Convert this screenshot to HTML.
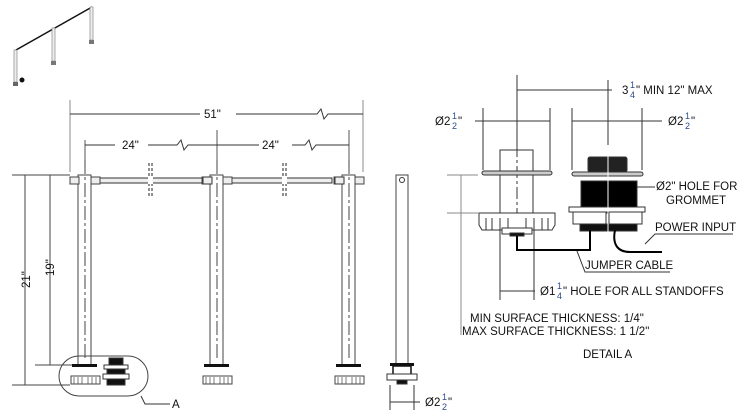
<!DOCTYPE html>
<html><head><meta charset="utf-8"><style>
html,body{margin:0;padding:0;background:#fff;}
svg{display:block;}
text{font-family:"Liberation Sans",sans-serif;font-size:11.5px;fill:#111;}
.f{font-size:9px;fill:#2a4a8a;}
</style></head><body>
<svg width="750" height="420" viewBox="0 0 750 420" xmlns="http://www.w3.org/2000/svg">
<g fill="none" stroke="#333" stroke-width="1">
<!-- isometric -->
<path d="M16 50 L92 7" stroke="#111" stroke-width="1.5"/>
<rect x="14" y="50" width="3" height="32" fill="#eee" stroke="#888" stroke-width="0.7"/>
<rect x="52" y="28" width="3" height="33" fill="#eee" stroke="#888" stroke-width="0.7"/>
<rect x="90" y="7" width="3" height="33" fill="#eee" stroke="#888" stroke-width="0.7"/>
<rect x="13" y="82" width="5" height="4" fill="#666" stroke="none"/><circle cx="22" cy="80" r="2.5" fill="#111" stroke="none"/>
<rect x="51" y="61" width="5" height="4" fill="#777" stroke="none"/>
<rect x="89" y="40" width="5" height="4" fill="#777" stroke="none"/>

<!-- 51 dim -->
<path d="M70 100V172M363 100V172" stroke="#888"/>
<path d="M70 114H200M236 114H317l4 -5 3 10 4 -5H363"/>
<!-- 24 dims -->
<path d="M85 140V172M217 130V172M349 130V172" stroke="#555"/>
<path d="M85 145H115M148 145H177l4 -5 3 10 4 -5H259M292 145H305l4 -5 3 10 4 -5H349"/>
<!-- rail -->
<rect x="90" y="178" width="242" height="5" fill="#eee" stroke="#333"/>
<path d="M149 163V198M152 163V198M283 163V198M286 163V198" stroke-dasharray="3,2" stroke="#222"/>
<rect x="148" y="177" width="5" height="7" fill="#fff" stroke="none"/>
<rect x="282" y="177" width="5" height="7" fill="#fff" stroke="none"/>
<!-- posts -->
<g id="p" stroke="#444">
<rect x="78" y="175" width="13" height="190" fill="#fff"/>
<path d="M85 160V360" stroke-dasharray="14,3,3,3"/>
<rect x="70" y="177" width="9" height="7" fill="#eee"/>
<rect x="91" y="177" width="9" height="7" fill="#eee"/>
<rect x="72" y="364" width="25" height="3" fill="#111" stroke="none"/>
<rect x="71" y="376" width="29" height="8" fill="#fff"/>
<path d="M74 377V384M78 377V384M82 377V384M88 377V384M92 377V384M96 377V384" stroke-width="0.7"/>
</g>
<use href="#p" x="132"/><use href="#p" x="264"/>
<rect x="203" y="177" width="9" height="7" fill="#eee"/>
<rect x="335" y="177" width="9" height="7" fill="#eee"/>
<!-- small grommet in oval -->
<rect x="109" y="358" width="14" height="7" fill="#111"/>
<rect x="104" y="365" width="24" height="4" fill="#fff"/>
<rect x="107" y="369" width="18" height="5" fill="#111"/>
<rect x="103" y="374" width="26" height="5" fill="#fff"/>
<rect x="107" y="379" width="18" height="6" fill="#111"/>
<rect x="59" y="356" width="89" height="40" rx="20" stroke="#444"/>
<path d="M141 396L145 404H170"/>
<!-- height dims -->
<path d="M12 175H70M25 175V385M12 385H70M50 175V365M35 365H72" stroke="#444"/>

<!-- side view -->
<rect x="396" y="175" width="12" height="190" fill="#fff" stroke="#444"/>
<circle cx="402" cy="180" r="2.5"/>
<rect x="390" y="363" width="24" height="3" fill="#111" stroke="none"/>
<rect x="393" y="366" width="18" height="9" fill="#fff" stroke="#111" stroke-width="1.5"/>
<rect x="387" y="374" width="30" height="6" fill="#fff"/>
<rect x="397" y="380" width="10" height="4" fill="#111"/>
<path d="M390 385V410M414 385V410M390 402H420"/>

<!-- Detail A dims -->
<path d="M517 75V145M608 80V145M517 90H612" stroke="#333"/>
<path d="M483 108V170M550 108V170M475 121H550M572 108V170M642 108V170M572 121H662"/>
<path d="M447 175H478M447 213H478M461 175V335" stroke="#888"/>
<path d="M500 232V300M534 232V300M500 291H535"/>
<!-- left standoff -->
<rect x="500" y="150" width="33" height="63" fill="#fff"/>
<path d="M517 145V235" stroke-dasharray="12,3,3,3"/>
<rect x="482" y="171" width="70" height="4" rx="2" fill="#ccc"/>
<path d="M479 213H555V225L552 230H482L479 225Z" fill="#fff"/>
<path d="M486 218V230M492 218V230M500 218V232M508 218V232M526 218V232M534 218V232M542 218V230M548 218V230"/>
<rect x="502" y="228" width="30" height="6" fill="#fff"/>
<rect x="510" y="233" width="14" height="3" fill="#111"/>
<!-- grommet -->
<rect x="588" y="157" width="39" height="15" fill="#222" rx="2"/>
<rect x="572" y="172" width="71" height="4" rx="2" fill="#ccc"/>
<rect x="581" y="181" width="56" height="32" fill="#000"/>
<rect x="569" y="207" width="76" height="5" fill="#fff"/>
<rect x="573" y="212" width="33" height="12" fill="#fff"/>
<rect x="609" y="212" width="33" height="12" fill="#fff"/>
<rect x="580" y="224" width="57" height="7" fill="#111"/>
<path d="M608 145V240" stroke="#fff" stroke-width="1"/>
<!-- cables -->
<path d="M517 236V250H590V230" stroke="#000" stroke-width="2"/>
<path d="M615 230C612 245 618 252 630 252H662" stroke="#000" stroke-width="2"/>
<path d="M637 187H655M645 244L655 234H733M577 251L585 272H670" stroke="#333"/>
</g>
<!-- text -->
<text x="204" y="118">51"</text>
<text x="122" y="149">24"</text>
<text x="262" y="149">24"</text>
<text transform="translate(30,288) rotate(-90)">21"</text>
<text transform="translate(54,276) rotate(-90)">19"</text>
<text x="172" y="408">A</text>
<text x="425" y="406">Ø2</text><text class="f" x="442" y="400">1</text><text class="f" x="442" y="410">2</text><text x="448" y="406">"</text>
<text x="435" y="125">Ø2</text><text class="f" x="452" y="119">1</text><text class="f" x="452" y="129">2</text><text x="458" y="125">"</text>
<text x="668" y="125">Ø2</text><text class="f" x="685" y="119">1</text><text class="f" x="685" y="129">2</text><text x="691" y="125">"</text>
<text x="622" y="94">3</text><text class="f" x="630" y="88">1</text><text class="f" x="630" y="98">4</text><text x="636" y="94">" MIN  12" MAX</text>
<text x="656" y="190">Ø2" HOLE FOR</text>
<text x="666" y="204">GROMMET</text>
<text x="655" y="231">POWER INPUT</text>
<text x="585" y="269">JUMPER CABLE</text>
<text x="540" y="295">Ø1</text><text class="f" x="557" y="289">1</text><text class="f" x="557" y="299">4</text><text x="563" y="295">" HOLE FOR ALL STANDOFFS</text>
<text x="470" y="322">MIN SURFACE THICKNESS: 1/4"</text>
<text x="462" y="335">MAX SURFACE THICKNESS: 1 1/2"</text>
<text x="583" y="358">DETAIL A</text>
</svg>
</body></html>
